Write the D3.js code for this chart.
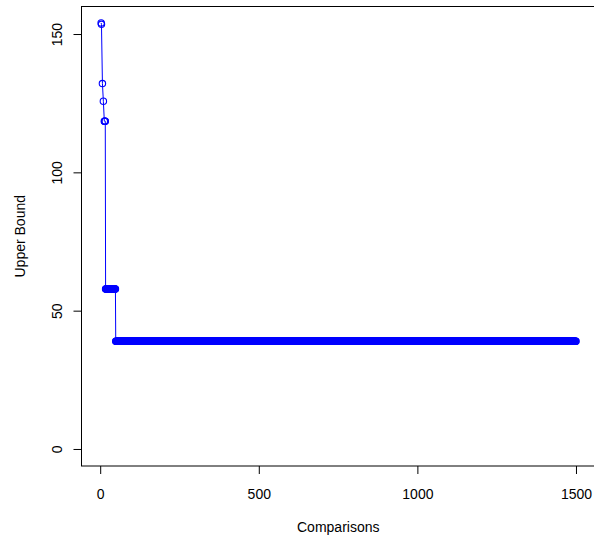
<!DOCTYPE html>
<html>
<head>
<meta charset="utf-8">
<script src="https://cdn.jsdelivr.net/npm/d3@7"></script>
<style>
html,body{margin:0;padding:0;background:#fff;}
svg{display:block;font-family:"Liberation Sans",Arial,sans-serif;}
</style>
</head>
<body>
<svg id="chart" width="594" height="544"></svg>
<script>
// Step runs: comparisons [start..end] share one upper bound value
const runStart = [3, 4, 7, 10, 13, 17, 49];
const runEnd   = [3, 4, 7, 10, 16, 48, 1500];
const runValue = [154.0, 153.5, 132.1, 125.7, 118.5, 57.8, 38.9];
const xTicks = [0, 500, 1000, 1500];
const yTicks = [0, 50, 100, 150];
const xLabel = "Comparisons";
const yLabel = "Upper Bound";

// expand the constant runs into one point per comparison
const data = [];
runStart.forEach((s, i) => {
  for (let c = s; c <= runEnd[i]; c++) data.push({x: c, y: runValue[i]});
});

const W = 594, H = 544;
const L = 81.5, R = 595, T = 6.5, B = 466;
const xmin = 1, xmax = 1500, ymin = 0, ymax = 153.8;
const xr = (xmax - xmin) * 0.04, yr = (ymax - ymin) * 0.04;
const x = d3.scaleLinear().domain([xmin - xr, xmax + xr]).range([L, R]);
const y = d3.scaleLinear().domain([ymin - yr, ymax + yr]).range([B, T]);

const svg = d3.select("#chart");
svg.append("rect").attr("width", W).attr("height", H).attr("fill", "#fff");

// data line + points
const line = d3.line().x(d => x(d.x)).y(d => y(d.y));
svg.append("path").datum(data).attr("d", line)
  .attr("fill", "none").attr("stroke", "#0000ff").attr("stroke-width", 1);
svg.append("g").selectAll("circle").data(data).join("circle")
  .attr("cx", d => x(d.x)).attr("cy", d => y(d.y)).attr("r", 3.2)
  .attr("fill", "none").attr("stroke", "#0000ff").attr("stroke-width", 1.1);

// box
svg.append("rect").attr("x", L).attr("y", T).attr("width", R - L).attr("height", B - T)
  .attr("fill", "none").attr("stroke", "#000").attr("stroke-width", 1);

// x axis
const gx = svg.append("g").attr("transform", `translate(0,${B})`)
  .call(d3.axisBottom(x).tickValues(xTicks).tickFormat(d3.format("d")).tickSize(8).tickPadding(15));
gx.select(".domain").remove();
gx.selectAll("text").attr("font-size", 14).attr("font-family", "Liberation Sans, Arial, sans-serif").attr("fill", "#000");
gx.selectAll("line").attr("stroke", "#000");

// y axis
const gy = svg.append("g").attr("transform", `translate(${L},0)`)
  .call(d3.axisLeft(y).tickValues(yTicks).tickFormat(d3.format("d")).tickSize(8));
gy.select(".domain").remove();
gy.selectAll("line").attr("stroke", "#000");
gy.selectAll("text")
  .attr("x", null).attr("dy", null)
  .attr("text-anchor", "middle")
  .attr("transform", "translate(-20,0) rotate(-90)")
  .attr("font-size", 14).attr("font-family", "Liberation Sans, Arial, sans-serif").attr("fill", "#000");

// axis titles
svg.append("text").attr("x", (L + R) / 2).attr("y", 532)
  .attr("text-anchor", "middle").attr("font-size", 14).text(xLabel);
svg.append("text").attr("transform", `translate(25,${(T + B) / 2}) rotate(-90)`)
  .attr("text-anchor", "middle").attr("font-size", 14).text(yLabel);
</script>
</body>
</html>
